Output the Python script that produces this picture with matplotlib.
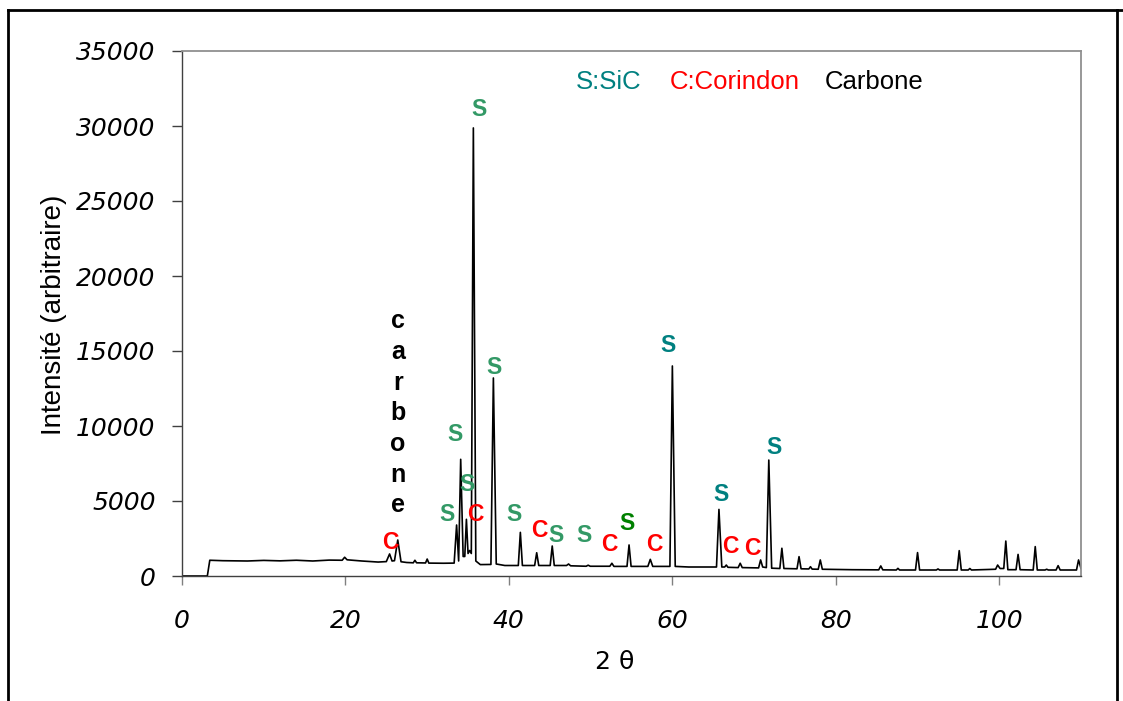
import matplotlib
matplotlib.use("Agg")
import matplotlib.pyplot as plt
from matplotlib.lines import Line2D

# ---------------- data ----------------
two_theta = [0, 3.1, 3.4, 5, 8, 10, 12, 14, 16, 18, 19.6, 19.9, 20.2, 22, 24,
             25.0, 25.4, 25.7, 26.0, 26.4, 26.8, 27.5, 28.3, 28.5, 28.7, 29.8, 30.0, 30.2,
             32, 33.3, 33.6, 33.85, 34.1, 34.4, 34.6, 34.8, 35.0, 35.2, 35.4, 35.65, 35.95,
             36.5, 37.8, 38.1, 38.45, 39.5, 41.15, 41.4, 41.65, 43.15, 43.4, 43.65,
             45.05, 45.3, 45.55, 47.05, 47.3, 47.55, 49.45, 49.7, 49.95, 52.35, 52.6, 52.85,
             54.45, 54.7, 54.95, 57.0, 57.3, 57.6, 59.7, 60.0, 60.35, 62, 65.4, 65.7, 66.05,
             66.4, 66.6, 66.8, 68.05, 68.3, 68.55, 70.55, 70.8, 71.05, 71.5, 71.8, 72.15,
             73.15, 73.4, 73.65, 75.25, 75.5, 75.75, 76.7, 76.9, 77.1, 77.85, 78.1, 78.35,
             82, 85.25, 85.5, 85.75, 87.4, 87.6, 87.8, 89.75, 90.0, 90.25, 92.3, 92.5, 92.7,
             94.85, 95.1, 95.35, 96.2, 96.4, 96.6, 99.55, 99.8, 100.1, 100.55, 100.8, 101.05,
             102.05, 102.3, 102.55, 104.15, 104.4, 104.65, 105.6, 105.8, 106.0, 106.95, 107.2,
             107.45, 109.45, 109.7, 110.0]
intensity = [0, 0, 1050, 1020, 1000, 1040, 1010, 1050, 1000, 1060, 1050, 1250, 1080, 1000, 930,
             960, 1470, 1000, 1020, 2400, 950, 900, 880, 1050, 880, 870, 1130, 860,
             850, 860, 3400, 1000, 7780, 1300, 1300, 3780, 1500, 1700, 1500, 29870, 1000,
             760, 770, 13200, 800, 700, 700, 2910, 700, 700, 1550, 700,
             700, 2000, 700, 700, 800, 680, 650, 720, 650, 650, 850, 640,
             640, 2070, 640, 640, 1110, 640, 640, 14000, 640, 600, 600, 4440, 600,
             600, 730, 580, 560, 850, 560, 540, 1070, 600, 560, 7730, 520,
             500, 1850, 500, 480, 1290, 480, 470, 620, 460, 450, 1070, 450,
             420, 410, 670, 410, 400, 510, 400, 400, 1560, 400, 400, 470, 400,
             400, 1690, 400, 400, 500, 400, 450, 730, 500, 500, 2330, 420,
             420, 1440, 420, 400, 1960, 400, 400, 450, 400, 400, 690,
             400, 400, 1070, 500]

# peak annotations: position (2θ, intensity), letter, colour
label_x = [25.45, 32.42, 33.40, 34.87, 35.85, 36.38, 38.17, 40.62, 43.68, 45.76, 49.19,
           52.25, 54.45, 57.75, 59.46, 65.95, 67.05, 69.74, 72.43]
label_y = [2400, 4267, 9600, 6267, 4267, 31290, 14067, 4267, 3200, 2867, 2867,
           2267, 3667, 2267, 15533, 5600, 2133, 2000, 8733]
label_txt = ["C", "S", "S", "S", "C", "S", "S", "S", "C", "S", "S",
             "C", "S", "C", "S", "S", "C", "C", "S"]
SEA, TEAL, GREEN, RED = "#339966", "#008080", "#008000", "#FF0000"
label_col = [RED, SEA, SEA, SEA, RED, SEA, SEA, SEA, RED, SEA, SEA,
             RED, GREEN, RED, TEAL, TEAL, RED, RED, TEAL]

carbone_word = "carbone"
carbone_x, carbone_y = 26.43, 16513

legend_txt = ["S:SiC", "C:Corindon", "Carbone"]
legend_col = [TEAL, RED, "black"]
legend_x = [48.2, 59.7, 78.7]
legend_y = 33070

x_ticks = [0, 20, 40, 60, 80, 100]
y_ticks = [0, 5000, 10000, 15000, 20000, 25000, 30000, 35000]

# ---------------- figure ----------------
W, H = 1123, 701
fig = plt.figure(figsize=(W / 100, H / 100), dpi=100)
ax = fig.add_axes([182 / W, (H - 576) / H, 899 / W, 525 / H])

ax.plot(two_theta, intensity, color="black", lw=1.2, solid_joinstyle="round")
ax.set_xlim(0, 110)
ax.set_ylim(0, 35000)
ax.set_xticks(x_ticks)
ax.set_yticks(y_ticks)
ax.set_xticklabels([str(v) for v in x_ticks])
ax.set_yticklabels([str(v) for v in y_ticks])

for lab in ax.get_xticklabels() + ax.get_yticklabels():
    lab.set_fontfamily("DejaVu Sans")
    lab.set_fontstyle("italic")
    lab.set_fontsize(18)
ax.tick_params(axis="y", direction="out", length=7, width=1, color="#404040", pad=12)
ax.tick_params(axis="x", direction="out", length=6.5, width=1, color="#808080", pad=17)

for side in ("left", "bottom"):
    ax.spines[side].set_color("#404040")
    ax.spines[side].set_linewidth(1.0)
for side in ("top", "right"):
    ax.spines[side].set_color("#909090")
    ax.spines[side].set_linewidth(1.3)

ax.set_ylabel("Intensité (arbitraire)", fontsize=20, family="Liberation Sans")
ax.yaxis.set_label_coords((67 - 182) / 899, (576 - 315) / 525)
ax.set_xlabel("2 θ", fontsize=18, family="DejaVu Sans")
ax.xaxis.set_label_coords((615 - 182) / 899, (576 - 650) / 525)

for x, y, t, c in zip(label_x, label_y, label_txt, label_col):
    ax.text(x, y, t, color=c, fontsize=16.5, fontweight="bold", family="Liberation Sans",
            ha="center", va="center_baseline")

for i, ch in enumerate(carbone_word):
    ax.annotate(ch, xy=(carbone_x, carbone_y), xytext=(0, -i * 22.1),
                textcoords="offset points", ha="center", va="baseline",
                fontsize=18, fontweight="bold", family="Liberation Sans", color="black")

for x, t, c in zip(legend_x, legend_txt, legend_col):
    ax.text(x, legend_y, t, color=c, fontsize=18.5, family="Liberation Sans",
            ha="left", va="center_baseline")

# outer chart border (bottom edge lies outside the picture)
bx0, by0, bx1 = 8 / W, 1 - 10 / H, 1117 / W
fig.add_artist(Line2D([bx0, bx0], [0, by0], transform=fig.transFigure, color="black", lw=2))
fig.add_artist(Line2D([bx0, 1.0], [by0, by0], transform=fig.transFigure, color="black", lw=2))
fig.add_artist(Line2D([bx1, bx1], [0, by0], transform=fig.transFigure, color="black", lw=2))

fig.savefig("out.png", dpi=100)
